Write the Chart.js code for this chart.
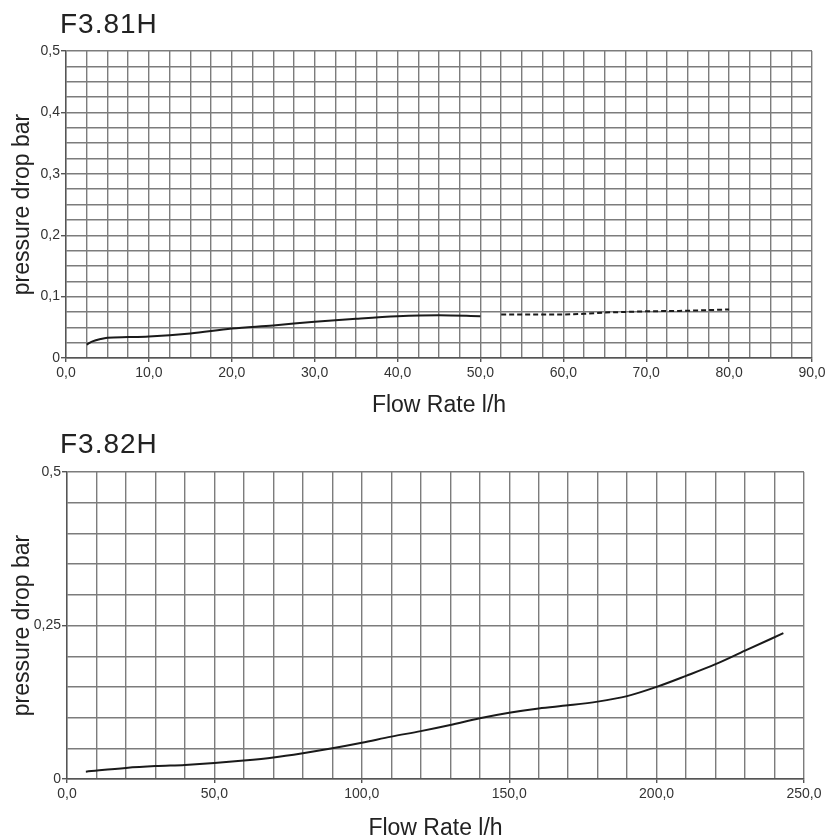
<!DOCTYPE html>
<html>
<head>
<meta charset="utf-8">
<script src="https://cdn.jsdelivr.net/npm/chart.js@4/dist/chart.umd.min.js"></script>
<style>
    html, body { margin: 0; padding: 0; background: #fff; }
    body { width: 829px; height: 838px; overflow: hidden; position: relative; }
    .panel { position: absolute; left: 0; width: 829px; height: 420px; }
    .panel canvas { display: block; }
    .panel-title {
        position: absolute;
        left: 60px;
        font-family: 'Liberation Sans', Arial, Helvetica, sans-serif;
        font-size: 28px;
        line-height: 1;
        letter-spacing: 1px;
        color: #222;
    }
</style>
</head>
<body>
<div class="panel" style="top:0">
    <canvas id="chartF381" width="829" height="420"></canvas>
    <div class="panel-title" style="top:10px">F3.81H</div>
</div>
<div class="panel" style="top:420px">
    <canvas id="chartF382" width="829" height="420"></canvas>
    <div class="panel-title" style="top:10px">F3.82H</div>
</div>
<script>
// F3.81H - solid part of the curve
const f381Flow = [2.5, 3.2, 4.2, 5.0, 7.5, 10, 15, 20, 25, 30, 35, 40, 45, 50];
const f381Pressure = [0.022, 0.027, 0.031, 0.033, 0.034, 0.035, 0.040, 0.048, 0.053, 0.059, 0.064, 0.068, 0.0695, 0.068];
// F3.81H - dashed part of the curve
const f381FlowDashed = [52.5, 55, 60, 62.5, 65, 67.5, 70, 75, 80];
const f381PressureDashed = [0.071, 0.071, 0.071, 0.072, 0.074, 0.075, 0.076, 0.077, 0.079];

// F3.82H
const f382Flow = [6.4, 20, 30, 40, 50, 60, 70, 80, 90, 100, 110, 120, 130, 140, 150, 160, 170, 180, 190, 200, 210, 220, 230, 243];
const f382Pressure = [0.012, 0.018, 0.021, 0.023, 0.026, 0.030, 0.035, 0.042, 0.050, 0.059, 0.069, 0.078, 0.088, 0.099, 0.108, 0.115, 0.120, 0.126, 0.135, 0.150, 0.168, 0.187, 0.209, 0.2375];

// Labelled ticks (all other grid lines carry no label)
const f381XTicks = [0, 10, 20, 30, 40, 50, 60, 70, 80, 90];
const f381XLabels = ['0,0', '10,0', '20,0', '30,0', '40,0', '50,0', '60,0', '70,0', '80,0', '90,0'];
const f381YTicks = [0, 0.1, 0.2, 0.3, 0.4, 0.5];
const f381YLabels = ['0', '0,1', '0,2', '0,3', '0,4', '0,5'];
const f382XTicks = [0, 50, 100, 150, 200, 250];
const f382XLabels = ['0,0', '50,0', '100,0', '150,0', '200,0', '250,0'];
const f382YTicks = [0, 0.25, 0.5];
const f382YLabels = ['0', '0,25', '0,5'];

const FONT = "'Liberation Sans', Arial, Helvetica, sans-serif";
const GRID_COLOR = '#7c7c7c';
const LINE_COLOR = '#1a1a1a';

Chart.defaults.font.family = FONT;
Chart.defaults.color = '#333';

function toPoints(xs, ys) {
    return xs.map((x, i) => ({ x: x, y: ys[i] }));
}

function labelFor(value, ticks, labels) {
    const idx = ticks.findIndex(t => Math.abs(t - value) < 1e-6);
    return idx >= 0 ? labels[idx] : '';
}

function curve(xs, ys, dash) {
    return {
        data: toPoints(xs, ys),
        borderColor: LINE_COLOR,
        borderWidth: 2,
        borderDash: dash || [],
        cubicInterpolationMode: 'monotone',
        pointRadius: 0,
        fill: false
    };
}

// Построение одного графика потери давления
function createPressureChart(canvasId, cfg) {
    const ctx = document.getElementById(canvasId).getContext('2d');
    return new Chart(ctx, {
        type: 'line',
        data: { datasets: cfg.datasets },
        options: {
            responsive: false,
            animation: false,
            layout: { padding: { top: cfg.top, right: cfg.right, bottom: 0, left: 0 } },
            plugins: {
                legend: { display: false },
                tooltip: { enabled: false }
            },
            scales: {
                x: {
                    type: 'linear',
                    min: cfg.xMin,
                    max: cfg.xMax,
                    afterFit: (scale) => { scale.height = cfg.xHeight; },
                    ticks: {
                        stepSize: cfg.xStep,
                        autoSkip: false,
                        maxRotation: 0,
                        minRotation: 0,
                        padding: 3,
                        font: { size: 14 },
                        color: '#333',
                        callback: (v) => labelFor(v, cfg.xTicks, cfg.xLabels)
                    },
                    grid: {
                        color: GRID_COLOR,
                        lineWidth: 1.4,
                        tickLength: 4,
                        tickColor: (c) => (c.tick && labelFor(c.tick.value, cfg.xTicks, cfg.xLabels) !== '') ? '#555' : 'rgba(0,0,0,0)'
                    },
                    border: { color: '#555', width: 1.4 },
                    title: {
                        display: true,
                        text: 'Flow Rate l/h',
                        color: '#222',
                        font: { size: 23, lineHeight: 1 },
                        padding: { top: 0, bottom: cfg.xTitlePad }
                    }
                },
                y: {
                    type: 'linear',
                    min: 0,
                    max: 0.5,
                    afterFit: (scale) => { scale.width = cfg.yWidth; },
                    ticks: {
                        stepSize: cfg.yStep,
                        autoSkip: false,
                        padding: 1,
                        font: { size: 14 },
                        color: '#333',
                        callback: (v) => labelFor(v, cfg.yTicks, cfg.yLabels)
                    },
                    grid: {
                        color: GRID_COLOR,
                        lineWidth: 1.4,
                        tickLength: 5,
                        tickColor: (c) => (c.tick && labelFor(c.tick.value, cfg.yTicks, cfg.yLabels) !== '') ? '#555' : 'rgba(0,0,0,0)'
                    },
                    border: { color: '#555', width: 1.4 },
                    title: {
                        display: true,
                        text: 'pressure drop bar',
                        color: '#222',
                        font: { size: 23, lineHeight: 1 },
                        padding: { top: 11, bottom: 0 }
                    }
                }
            }
        }
    });
}

createPressureChart('chartF381', {
    datasets: [
        curve(f381Flow, f381Pressure),
        curve(f381FlowDashed, f381PressureDashed, [5, 3])
    ],
    xMin: 0, xMax: 90, xStep: 2.5, yStep: 0.025,
    xTicks: f381XTicks, xLabels: f381XLabels,
    yTicks: f381YTicks, yLabels: f381YLabels,
    top: 51, right: 17, xHeight: 62, yWidth: 66, xTitlePad: 3
});

createPressureChart('chartF382', {
    datasets: [
        curve(f382Flow, f382Pressure)
    ],
    xMin: 0, xMax: 250, xStep: 10, yStep: 0.05,
    xTicks: f382XTicks, xLabels: f382XLabels,
    yTicks: f382YTicks, yLabels: f382YLabels,
    top: 52, right: 25, xHeight: 61, yWidth: 67, xTitlePad: 0
});
</script>
</body>
</html>
